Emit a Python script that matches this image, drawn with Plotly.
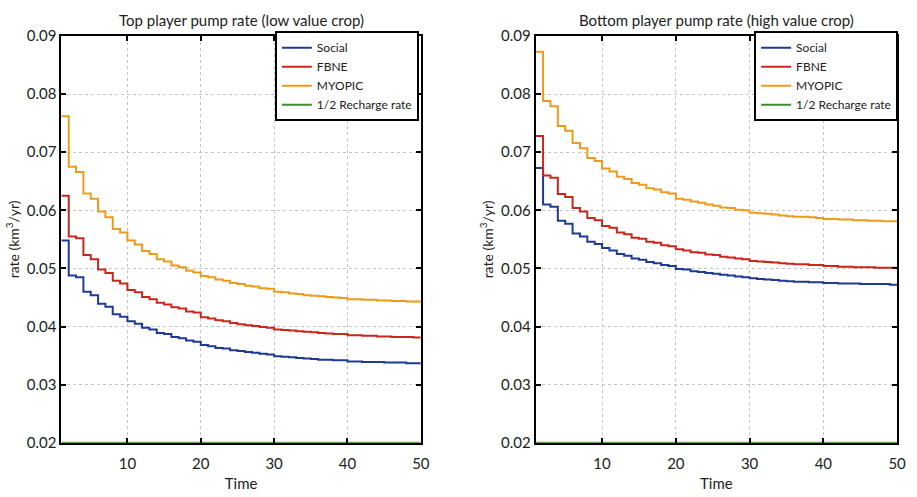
import plotly.graph_objects as go

time = list(range(1, 51))

top_social = [0.0548, 0.0488, 0.0485, 0.0460, 0.0454, 0.0439, 0.0434, 0.0421, 0.0417, 0.0409,
              0.0405, 0.0398, 0.0395, 0.0389, 0.0387, 0.0382, 0.0380, 0.0376, 0.0374, 0.0368,
              0.0366, 0.0363, 0.0362, 0.0359, 0.0358, 0.0356, 0.0355, 0.0353, 0.0352, 0.0349,
              0.0348, 0.0347, 0.0346, 0.0345, 0.0344, 0.0343, 0.0343, 0.0342, 0.0342, 0.0340,
              0.0340, 0.0339, 0.0339, 0.0339, 0.0338, 0.0338, 0.0338, 0.0337, 0.0337, 0.0337]
top_fbne = [0.0625, 0.0555, 0.0552, 0.0523, 0.0516, 0.0498, 0.0492, 0.0479, 0.0474, 0.0463,
            0.0459, 0.0451, 0.0447, 0.0441, 0.0438, 0.0433, 0.0431, 0.0426, 0.0424, 0.0416,
            0.0414, 0.0411, 0.0409, 0.0406, 0.0404, 0.0402, 0.0401, 0.0399, 0.0398, 0.0395,
            0.0394, 0.0393, 0.0392, 0.0391, 0.0390, 0.0389, 0.0388, 0.0387, 0.0387, 0.0385,
            0.0385, 0.0384, 0.0384, 0.0383, 0.0383, 0.0382, 0.0382, 0.0382, 0.0381, 0.0381]
top_myopic = [0.0762, 0.0675, 0.0666, 0.0629, 0.0620, 0.0598, 0.0588, 0.0568, 0.0562, 0.0548,
              0.0541, 0.0530, 0.0525, 0.0516, 0.0512, 0.0505, 0.0502, 0.0496, 0.0493, 0.0487,
              0.0485, 0.0481, 0.0479, 0.0475, 0.0473, 0.0470, 0.0469, 0.0466, 0.0465, 0.0460,
              0.0459, 0.0457, 0.0456, 0.0454, 0.0453, 0.0452, 0.0451, 0.0450, 0.0449, 0.0447,
              0.0447, 0.0446, 0.0446, 0.0445, 0.0445, 0.0444, 0.0444, 0.0443, 0.0443, 0.0442]

bot_social = [0.0673, 0.0610, 0.0606, 0.0582, 0.0577, 0.0560, 0.0555, 0.0546, 0.0542, 0.0535,
              0.0531, 0.0525, 0.0522, 0.0517, 0.0515, 0.0511, 0.0509, 0.0506, 0.0504, 0.0499,
              0.0498, 0.0495, 0.0494, 0.0492, 0.0491, 0.0489, 0.0488, 0.0486, 0.0485, 0.0483,
              0.0482, 0.0481, 0.0480, 0.0479, 0.0478, 0.0477, 0.0477, 0.0476, 0.0476, 0.0475,
              0.0475, 0.0474, 0.0474, 0.0474, 0.0473, 0.0473, 0.0473, 0.0473, 0.0472, 0.0472]
bot_fbne = [0.0728, 0.0660, 0.0656, 0.0628, 0.0623, 0.0604, 0.0598, 0.0587, 0.0583, 0.0573,
            0.0570, 0.0562, 0.0559, 0.0553, 0.0551, 0.0546, 0.0544, 0.0540, 0.0538, 0.0533,
            0.0531, 0.0528, 0.0527, 0.0524, 0.0523, 0.0520, 0.0519, 0.0517, 0.0516, 0.0513,
            0.0512, 0.0511, 0.0510, 0.0509, 0.0508, 0.0507, 0.0507, 0.0506, 0.0506, 0.0504,
            0.0504, 0.0503, 0.0503, 0.0502, 0.0502, 0.0502, 0.0501, 0.0501, 0.0501, 0.0501]
bot_myopic = [0.0873, 0.0788, 0.0779, 0.0745, 0.0737, 0.0716, 0.0707, 0.0690, 0.0685, 0.0672,
              0.0667, 0.0658, 0.0654, 0.0647, 0.0644, 0.0638, 0.0636, 0.0631, 0.0629, 0.0620,
              0.0618, 0.0615, 0.0613, 0.0610, 0.0608, 0.0605, 0.0604, 0.0601, 0.0600, 0.0596,
              0.0595, 0.0594, 0.0593, 0.0591, 0.0590, 0.0589, 0.0589, 0.0588, 0.0587, 0.0585,
              0.0585, 0.0584, 0.0584, 0.0583, 0.0583, 0.0582, 0.0582, 0.0581, 0.0581, 0.0581]

half_recharge = 0.02

series_names = ["Social", "FBNE", "MYOPIC", "1/2 Recharge rate"]
colors = ["#1f3a93", "#c9261c", "#ee9a1c", "#3f8f2a"]
titles = ["Top player pump rate (low value crop)", "Bottom player pump rate (high value crop)"]
y_ticks = [0.02, 0.03, 0.04, 0.05, 0.06, 0.07, 0.08, 0.09]
x_ticks = [10, 20, 30, 40, 50]

FONT = "Lato, 'Open Sans', sans-serif"

fig = go.Figure()

panels = [
    ([top_social, top_fbne, top_myopic], "x", "y", "legend"),
    ([bot_social, bot_fbne, bot_myopic], "x2", "y2", "legend2"),
]
for series, xa, ya, lg in panels:
    all_series = series + [[half_recharge] * len(time)]
    for name, vals, col in zip(series_names, all_series, colors):
        fig.add_trace(go.Scatter(
            x=time, y=vals, mode="lines", name=name, line=dict(color=col, width=2, shape="hv"),
            xaxis=xa, yaxis=ya, legend=lg, showlegend=True))

dom_left = [62 / 917, 425 / 917]
dom_right = [541 / 917, 906 / 917]
dom_y = [1 - 449 / 497, 1 - 27 / 497]

axis_common = dict(showline=True, linecolor="black", linewidth=2, mirror="ticks",
                   ticks="inside", ticklen=5, tickwidth=2, tickcolor="black",
                   showgrid=True, gridcolor="#c4c4c4", griddash="dot", gridwidth=1,
                   zeroline=False, tickfont=dict(size=15, color="#222", family=FONT))

xtitle = dict(text="Time", font=dict(size=15), standoff=8)
ytitle = dict(text="rate (km<sup>3</sup>/yr)", font=dict(size=14), standoff=4)

fig.update_layout(
    width=917, height=497, margin=dict(l=0, r=0, t=0, b=0),
    plot_bgcolor="white", paper_bgcolor="white",
    font=dict(family=FONT, color="#222"),
    xaxis=dict(domain=dom_left, range=[1, 50], tickvals=x_ticks, anchor="y",
               ticklabelstandoff=6, title=xtitle, **axis_common),
    yaxis=dict(domain=dom_y, range=[0.02, 0.09], tickvals=y_ticks, tickformat=".2f", anchor="x",
               title=ytitle, **axis_common),
    xaxis2=dict(domain=dom_right, range=[1, 50], tickvals=x_ticks, anchor="y2",
                ticklabelstandoff=6, title=xtitle, **axis_common),
    yaxis2=dict(domain=dom_y, range=[0.02, 0.09], tickvals=y_ticks, tickformat=".2f", anchor="x2",
                title=ytitle, **axis_common),
    legend=dict(x=423 / 917, y=1 - 22 / 497, xanchor="right", yanchor="top",
                bgcolor="white", bordercolor="black", borderwidth=2,
                font=dict(size=12, family=FONT), tracegroupgap=0, itemwidth=30),
    legend2=dict(x=907 / 917, y=1 - 22 / 497, xanchor="right", yanchor="top",
                 bgcolor="white", bordercolor="black", borderwidth=2,
                 font=dict(size=12, family=FONT), tracegroupgap=0, itemwidth=30),
)

for t, dom in zip(titles, [dom_left, dom_right]):
    fig.add_annotation(text=t, xref="paper", yref="paper", x=(dom[0] + dom[1]) / 2,
                       y=dom_y[1], yanchor="bottom", xanchor="center", yshift=5,
                       showarrow=False, font=dict(size=15, family=FONT, color="#222"))

fig.write_html("out.html")
